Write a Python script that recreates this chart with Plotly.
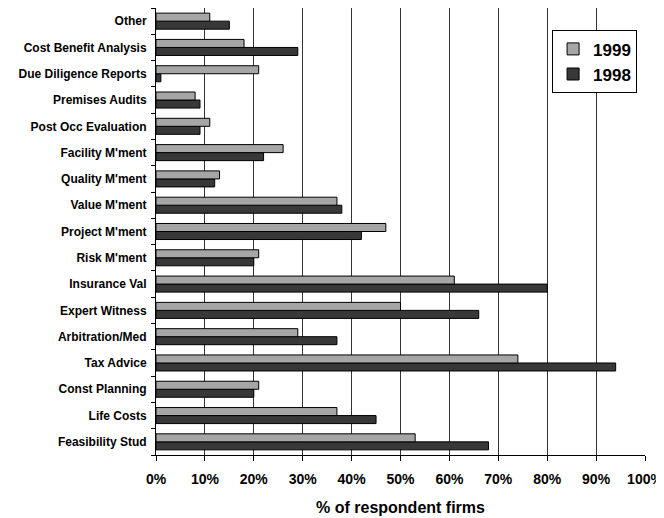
import plotly.graph_objects as go

categories = ["Other", "Cost Benefit Analysis", "Due Diligence Reports", "Premises Audits",
              "Post Occ Evaluation", "Facility M'ment", "Quality M'ment", "Value M'ment",
              "Project M'ment", "Risk M'ment", "Insurance Val", "Expert Witness",
              "Arbitration/Med", "Tax Advice", "Const Planning", "Life Costs", "Feasibility Stud"]
values_1999 = [11, 18, 21, 8, 11, 26, 13, 37, 47, 21, 61, 50, 29, 74, 21, 37, 53]
values_1998 = [15, 29, 1, 9, 9, 22, 12, 38, 42, 20, 80, 66, 37, 94, 20, 45, 68]
x_ticks = list(range(0, 101, 10))

FONT = "Liberation Sans, Arial, Helvetica, sans-serif"

fig = go.Figure()
fig.add_trace(go.Bar(name="1998", y=categories, x=values_1998, orientation="h",
                     marker=dict(color="#383838", line=dict(color="black", width=1))))
fig.add_trace(go.Bar(name="1999", y=categories, x=values_1999, orientation="h",
                     marker=dict(color="#a6a6a6", line=dict(color="black", width=1))))

fig.update_layout(
    width=656, height=510,
    margin=dict(l=148, r=19, t=0, b=63),
    paper_bgcolor="white", plot_bgcolor="white",
    barmode="group", bargap=0.39, bargroupgap=0,
    font=dict(family=FONT, color="black", weight="bold"),
    showlegend=True,
    legend=dict(x=0.81, y=0.95, xanchor="left", yanchor="top",
                traceorder="reversed", bgcolor="white",
                bordercolor="black", borderwidth=1,
                font=dict(size=17, family=FONT, weight="bold"),
                itemwidth=30),
    xaxis=dict(range=[0, 100], tickvals=x_ticks, ticktext=[f"{v}%" for v in x_ticks],
               showgrid=True, gridcolor="#333333", gridwidth=1,
               showline=True, linecolor="black", linewidth=1,
               ticks="outside", ticklen=5, tickcolor="black",
               ticklabelstandoff=6,
               tickfont=dict(size=14, family=FONT, weight="bold"),
               title=dict(text="% of respondent firms", standoff=16,
                          font=dict(size=16, family=FONT, weight="bold")),
               zeroline=False, automargin=False),
    yaxis=dict(categoryorder="array", categoryarray=categories[::-1],
               showline=True, linecolor="black", linewidth=1,
               ticks="outside", ticklen=4, tickcolor="black", tickson="boundaries",
               ticklabelstandoff=6,
               tickfont=dict(size=12, family=FONT, weight="bold"),
               showgrid=False, automargin=False),
)

fig.write_html("out.html")
